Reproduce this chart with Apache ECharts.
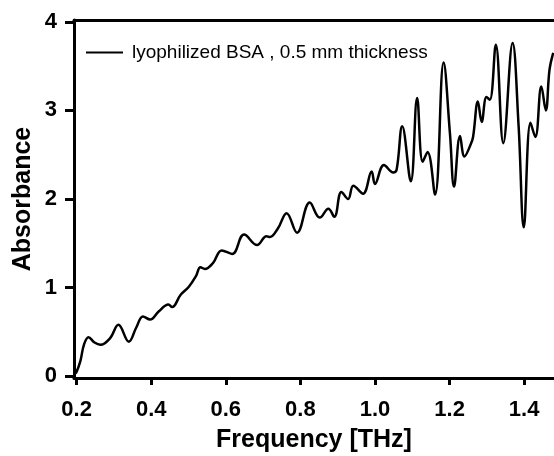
<!DOCTYPE html>
<html>
<head>
<meta charset="utf-8">
<script src="https://cdn.jsdelivr.net/npm/echarts@6/dist/echarts.min.js"></script>
<style>html,body{margin:0;padding:0;background:#fff}#c{width:554px;height:456px}</style>
</head>
<body>
<div id="c"></div>
<script>
const freq = [0.196,0.2,0.21,0.22,0.232,0.248,0.264,0.29,0.312,0.34,0.36,0.378,0.397,0.42,0.446,0.456,0.479,0.501,0.52,0.532,0.544,0.566,0.589,0.617,0.649,0.684,0.709,0.718,0.74,0.763,0.791,0.825,0.852,0.875,0.891,0.91,0.928,0.942,0.968,0.991,1.0,1.024,1.049,1.058,1.073,1.096,1.113,1.128,1.141,1.161,1.184,1.201,1.212,1.228,1.24,1.257,1.263,1.276,1.286,1.299,1.308,1.324,1.344,1.369,1.385,1.399,1.417,1.43,1.446,1.458,1.468,1.478];
const absorbance = [0.03,0.05,0.17,0.36,0.44,0.38,0.355,0.43,0.58,0.39,0.55,0.675,0.64,0.73,0.81,0.78,0.92,1.01,1.13,1.23,1.21,1.28,1.42,1.38,1.6,1.48,1.58,1.57,1.67,1.84,1.62,1.96,1.79,1.89,1.8,2.08,2.0,2.15,2.06,2.31,2.17,2.385,2.3,2.33,2.82,2.2,3.14,2.42,2.53,2.05,3.54,2.74,2.14,2.71,2.48,2.62,2.7,3.1,2.87,3.15,3.12,3.74,2.63,3.76,2.83,1.68,2.86,2.7,3.27,3.0,3.46,3.65];
const xTicks = [0.2,0.4,0.6,0.8,1.0,1.2,1.4];
const yTicks = [0,1,2,3,4];
const seriesName = 'lyophilized BSA , 0.5 mm thickness';

const chart = echarts.init(document.getElementById('c'), null, {renderer:'canvas'});
const font = 'Liberation Sans, Arial, sans-serif';
chart.setOption({
  animation:false,
  backgroundColor:'#fff',
  grid:{left:74,right:0,top:20,bottom:78,containLabel:false,outerBoundsMode:'none'},
  legend:{
    left:86, top:43, padding:0, icon:'rect', itemWidth:37, itemHeight:2,
    textStyle:{fontFamily:font,fontSize:19,color:'#000',padding:[0,0,0,4]},
    data:[seriesName]
  },
  xAxis:[{
    type:'value', min:0.193, max:1.48,
    name:'Frequency [THz]', nameLocation:'middle', nameGap:50, nameMoveOverlap:false,
    nameTextStyle:{fontFamily:font,fontWeight:'bold',fontSize:25,color:'#000'},
    axisLine:{onZero:false,lineStyle:{color:'#000',width:3}},
    axisTick:{show:true,inside:false,length:7,lineStyle:{color:'#000',width:3},customValues:xTicks},
    axisLabel:{fontFamily:font,fontWeight:'bold',fontSize:22,color:'#000',margin:21,customValues:xTicks,formatter:v=>v.toFixed(1)},
    splitLine:{show:false}
  },{
    type:'value', position:'top', min:0.193, max:1.48,
    axisLine:{onZero:false,lineStyle:{color:'#000',width:3}},
    axisTick:{show:false}, axisLabel:{show:false}, splitLine:{show:false}
  }],
  yAxis:{
    type:'value', min:-0.02, max:4.02,
    name:'Absorbance', nameLocation:'middle', nameGap:38, nameRotate:90, nameMoveOverlap:false,
    nameTextStyle:{fontFamily:font,fontWeight:'bold',fontSize:25,color:'#000'},
    axisLine:{onZero:false,lineStyle:{color:'#000',width:3}},
    axisTick:{show:true,inside:false,length:9,lineStyle:{color:'#000',width:3},customValues:yTicks},
    axisLabel:{fontFamily:font,fontWeight:'bold',fontSize:22,color:'#000',margin:17,customValues:yTicks},
    splitLine:{show:false}
  },
  series:[{
    name:seriesName, type:'line', xAxisIndex:0,
    data:freq.map((f,i)=>[f,absorbance[i]]),
    smooth:0.4, showSymbol:false, symbol:'none',
    lineStyle:{color:'#000',width:2.5}, itemStyle:{color:'#000'},
    clip:true
  }]
});
</script>
</body>
</html>
